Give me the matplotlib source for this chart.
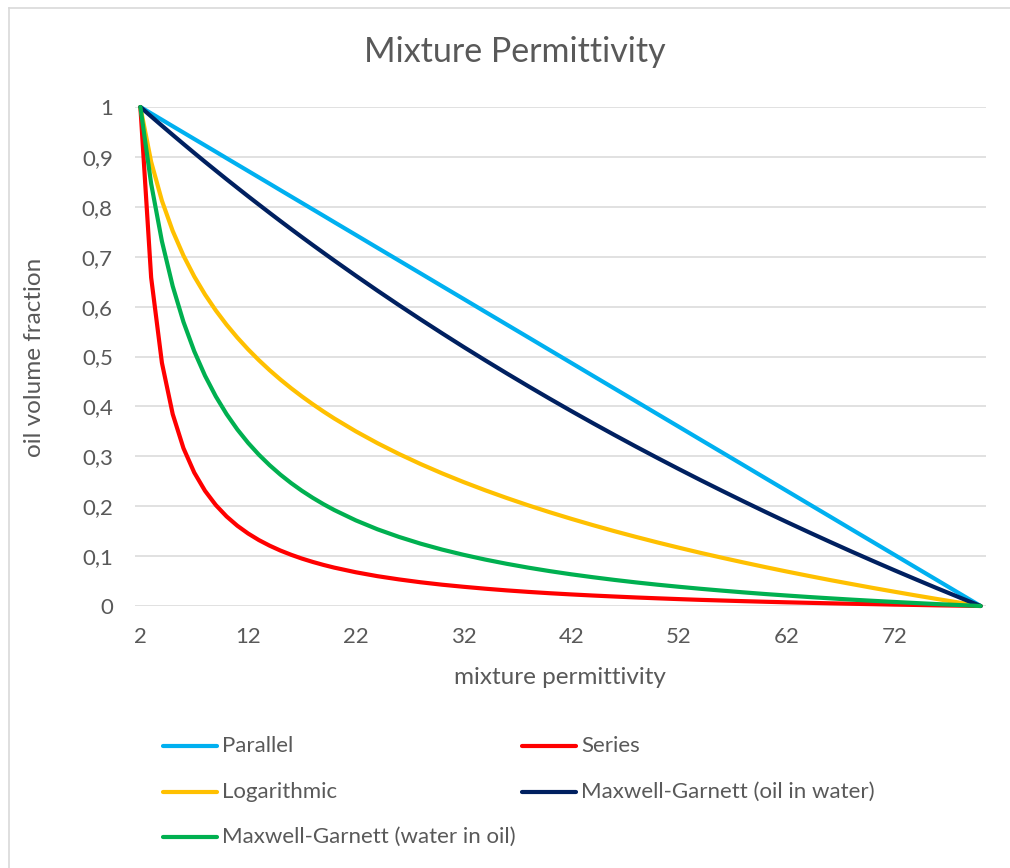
import matplotlib
matplotlib.use("Agg")
import matplotlib.pyplot as plt
from matplotlib.lines import Line2D

plt.rcParams['font.family'] = ['Lato', 'DejaVu Sans']

# ---- data ----
permittivity = [2, 3, 4, 5, 6, 7, 8, 9, 10, 11, 12, 13, 14, 15, 16, 17, 18, 19, 20,
                22, 24, 26, 28, 30, 32, 34, 36, 38, 40, 42, 44, 46, 48, 50,
                52, 54, 56, 58, 60, 62, 64, 66, 68, 70, 72, 74, 76, 78, 80]

parallel = [1.0, 0.9872, 0.9744, 0.9615, 0.9487, 0.9359, 0.9231, 0.9103, 0.8974, 0.8846,
            0.8718, 0.8590, 0.8462, 0.8333, 0.8205, 0.8077, 0.7949, 0.7821, 0.7692,
            0.7436, 0.7179, 0.6923, 0.6667, 0.6410, 0.6154, 0.5897, 0.5641, 0.5385, 0.5128,
            0.4872, 0.4615, 0.4359, 0.4103, 0.3846, 0.3590, 0.3333, 0.3077, 0.2821, 0.2564,
            0.2308, 0.2051, 0.1795, 0.1538, 0.1282, 0.1026, 0.0769, 0.0513, 0.0256, 0.0]

series = [1.0, 0.6581, 0.4872, 0.3846, 0.3162, 0.2674, 0.2308, 0.2023, 0.1795, 0.1608,
          0.1453, 0.1321, 0.1209, 0.1111, 0.1026, 0.0950, 0.0883, 0.0823, 0.0769,
          0.0676, 0.0598, 0.0533, 0.0476, 0.0427, 0.0385, 0.0347, 0.0313, 0.0283, 0.0256,
          0.0232, 0.0210, 0.0190, 0.0171, 0.0154, 0.0138, 0.0123, 0.0110, 0.0097, 0.0085,
          0.0074, 0.0064, 0.0054, 0.0045, 0.0037, 0.0028, 0.0021, 0.0013, 0.0007, 0.0]

logarithmic = [1.0, 0.8901, 0.8121, 0.7516, 0.7022, 0.6604, 0.6242, 0.5923, 0.5637, 0.5379,
               0.5143, 0.4926, 0.4725, 0.4538, 0.4363, 0.4199, 0.4044, 0.3897, 0.3758,
               0.3500, 0.3264, 0.3047, 0.2846, 0.2659, 0.2484, 0.2320, 0.2165, 0.2018, 0.1879,
               0.1747, 0.1621, 0.1500, 0.1385, 0.1274, 0.1168, 0.1065, 0.0967, 0.0872, 0.0780,
               0.0691, 0.0605, 0.0521, 0.0441, 0.0362, 0.0286, 0.0211, 0.0139, 0.0069, 0.0]

mg_oil_in_water = [1.0, 0.9811, 0.9625, 0.9441, 0.9259, 0.9079, 0.8901, 0.8726, 0.8552, 0.8381,
                   0.8211, 0.8044, 0.7878, 0.7714, 0.7552, 0.7392, 0.7234, 0.7078, 0.6923,
                   0.6619, 0.6321, 0.6030, 0.5745, 0.5466, 0.5192, 0.4925, 0.4663, 0.4406, 0.4154,
                   0.3907, 0.3665, 0.3428, 0.3195, 0.2967, 0.2743, 0.2523, 0.2308, 0.2096, 0.1888,
                   0.1684, 0.1484, 0.1287, 0.1093, 0.0903, 0.0716, 0.0533, 0.0352, 0.0175, 0.0]

mg_water_in_oil = [1.0, 0.8462, 0.7308, 0.6410, 0.5692, 0.5105, 0.4615, 0.4201, 0.3846, 0.3538,
                   0.3269, 0.3032, 0.2821, 0.2632, 0.2462, 0.2308, 0.2168, 0.2040, 0.1923,
                   0.1716, 0.1538, 0.1385, 0.1250, 0.1131, 0.1026, 0.0931, 0.0846, 0.0769, 0.0699,
                   0.0635, 0.0577, 0.0523, 0.0473, 0.0427, 0.0385, 0.0345, 0.0308, 0.0273, 0.0240,
                   0.0210, 0.0181, 0.0154, 0.0128, 0.0104, 0.0081, 0.0059, 0.0038, 0.0019, 0.0]

series_names = ["Parallel", "Series", "Logarithmic",
                "Maxwell-Garnett (oil in water)", "Maxwell-Garnett (water in oil)"]
series_colors = ["#00B0F0", "#FF0000", "#FFC000", "#002060", "#00B050"]

x_ticks = [2, 12, 22, 32, 42, 52, 62, 72]
y_ticks = [0, 0.1, 0.2, 0.3, 0.4, 0.5, 0.6, 0.7, 0.8, 0.9, 1.0]
y_tick_labels = ["0", "0,1", "0,2", "0,3", "0,4", "0,5", "0,6", "0,7", "0,8", "0,9", "1"]

title = "Mixture Permittivity"
x_label = "mixture permittivity"
y_label = "oil volume fraction"

# ---- figure ----
W, H = 1010, 868
fig = plt.figure(figsize=(W / 100, H / 100), dpi=100)
fig.patch.set_facecolor("white")

# chart-area border (left and top visible)
fig.add_artist(Line2D([9 / W, 9 / W], [0, 1 - 8 / H], transform=fig.transFigure,
                      color="#D9D9D9", lw=1.2))
fig.add_artist(Line2D([9 / W, 1], [1 - 8 / H, 1 - 8 / H], transform=fig.transFigure,
                      color="#D9D9D9", lw=1.2))

left, right, top, bottom = 135, 986, 107, 606
ax = fig.add_axes([left / W, 1 - bottom / H, (right - left) / W, (bottom - top) / H])

all_series = [parallel, series, logarithmic, mg_oil_in_water, mg_water_in_oil]
for vals, name, col in zip(all_series, series_names, series_colors):
    ax.plot(permittivity, vals, color=col, lw=3.0, label=name, clip_on=False,
            solid_capstyle="round", solid_joinstyle="round", zorder=3)

ax.set_xlim(1.5, 80.5)
ax.set_ylim(0, 1)
ax.set_xticks(x_ticks)
ax.set_xticklabels([str(v) for v in x_ticks])
ax.set_yticks(y_ticks)
ax.set_yticklabels(y_tick_labels)
ax.tick_params(axis="both", length=0, labelsize=16, labelcolor="#595959")
ax.tick_params(axis="y", pad=16)
ax.tick_params(axis="x", pad=15)
for s in ax.spines.values():
    s.set_visible(False)
ax.grid(axis="y", color="#D9D9D9", lw=1.1, zorder=0)
ax.set_axisbelow(True)

fig.text(515 / W, 1 - 52 / H, title, ha="center", va="center", fontsize=24.5, color="#595959")
fig.text(560 / W, 1 - 678 / H, x_label, ha="center", va="center", fontsize=17.5, color="#595959")
fig.text(35 / W, 1 - 357 / H, y_label, ha="center", va="center", rotation=90,
         fontsize=17.5, color="#595959")

# legend (manual placement as in the reference)
legend_pos = [(163, 746), (522, 746), (163, 792), (522, 792), (163, 837)]
for (lx, ly), name, col in zip(legend_pos, series_names, series_colors):
    fig.add_artist(Line2D([lx / W, (lx + 54) / W], [1 - ly / H, 1 - ly / H],
                          transform=fig.transFigure, color=col, lw=3.0,
                          solid_capstyle="round"))
    fig.text((lx + 59) / W, 1 - ly / H, name, ha="left", va="center",
             fontsize=16, color="#595959")

fig.savefig("out.png", dpi=100, facecolor="white")
